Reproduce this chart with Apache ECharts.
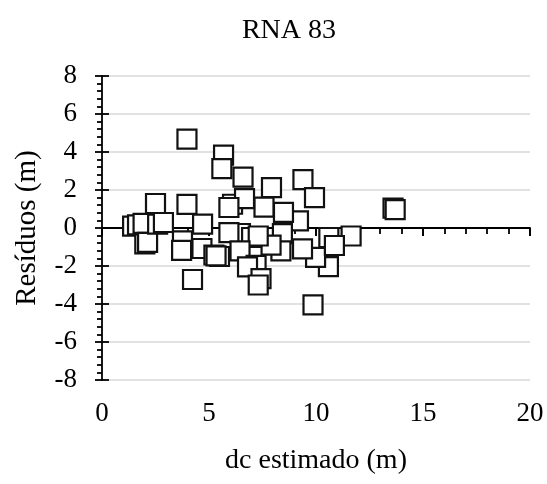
<!DOCTYPE html>
<html><head><meta charset="utf-8">
<script src="https://cdn.jsdelivr.net/npm/echarts@6/dist/echarts.min.js"></script>
<style>html,body{margin:0;padding:0;background:#fff}#c{width:547px;height:484px}</style>
</head><body><div id="c"></div>
<script>
const titleText = "RNA 83";
const xName = "dc estimado (m)";
const yName = "Resíduos (m)";
const xTicks = [0, 5, 10, 15, 20];
const yTicks = [-8, -6, -4, -2, 0, 2, 4, 6, 8];
const dcEstimado = [3.97, 5.68, 5.6, 6.59, 7.92, 9.39, 9.93, 13.6, 13.7, 11.64, 10.6, 10.58, 9.86, 9.98, 9.37, 10.86, 9.18, 8.48, 7.57, 6.1, 6.66, 5.93, 8.43, 8.36, 7.9, 6.47, 5.93, 6.99, 7.3, 6.45, 7.2, 6.8, 7.43, 7.3, 4.7, 4.67, 5.23, 5.49, 5.33, 4.23, 3.76, 3.72, 3.97, 2.5, 1.43, 1.66, 1.92, 2.0, 2.13, 2.6, 2.87];
const residuos =   [4.68, 3.84, 3.13, 2.68, 2.13, 2.55, 1.6, 1.05, 0.97, -0.42, -0.5, -2.03, -4.05, -1.55, -1.1, -0.92, 0.37, 0.82, 1.1, 1.25, 1.55, 1.08, -0.3, -1.2, -0.9, -0.29, -0.24, -0.5, -0.42, -1.2, -1.97, -2.05, -2.66, -3.0, 0.2, -1.08, -1.42, -1.5, -1.47, -2.71, -0.68, -1.18, 1.24, 1.29, 0.1, 0.16, 0.24, -0.84, -0.76, 0.2, 0.29];

const pts = dcEstimado.map((x, i) => [x, residuos[i]]);
const font = "'Liberation Serif', 'Times New Roman', serif";
const xMin = xTicks[0], xMax = xTicks[xTicks.length - 1], xInt = xTicks[1] - xTicks[0];
const yMin = yTicks[0], yMax = yTicks[yTicks.length - 1], yInt = yTicks[1] - yTicks[0];

const chart = echarts.init(document.getElementById('c'), null, {renderer: 'canvas'});
const lineStyle = {color: '#000', width: 1.8};
chart.setOption({
  animation: false,
  backgroundColor: '#fff',
  title: {text: titleText, left: 284, top: 12, textAlign: 'center',
    textStyle: {fontFamily: font, fontSize: 28, fontWeight: 'normal', color: '#000'}},
  grid: {left: 102, right: 17, top: 76, bottom: 104, containLabel: false},
  xAxis: [
    {type: 'value', min: xMin, max: xMax, interval: xInt,
      axisLine: {show: true, onZero: true, lineStyle},
      axisTick: {show: true, inside: false, length: 8, lineStyle},
      minorTick: {show: true, splitNumber: 5, length: 6, lineStyle},
      axisLabel: {show: false}, splitLine: {show: false}},
    {type: 'value', min: xMin, max: xMax, interval: xInt,
      axisLine: {show: false, onZero: true},
      axisTick: {show: true, inside: true, length: 8, lineStyle},
      axisLabel: {show: false}, splitLine: {show: false}},
    {type: 'value', min: xMin, max: xMax, interval: xInt, position: 'bottom',
      axisLine: {show: false, onZero: false}, axisTick: {show: false},
      axisLabel: {show: true, margin: 20, fontFamily: font, fontSize: 27, color: '#000'},
      splitLine: {show: false},
      name: xName, nameLocation: 'middle', nameGap: 67,
      nameTextStyle: {fontFamily: font, fontSize: 28, color: '#000'}}
  ],
  yAxis: [
    {type: 'value', min: yMin, max: yMax, interval: yInt,
      axisLine: {show: true, onZero: false, lineStyle},
      axisTick: {show: true, inside: false, length: 7, lineStyle},
      minorTick: {show: true, splitNumber: 5, length: 5, lineStyle},
      axisLabel: {show: true, margin: 25, fontFamily: font, fontSize: 27, color: '#000'},
      splitLine: {show: true, lineStyle: {color: '#d9d9d9', width: 1.5}},
      name: yName, nameLocation: 'middle', nameGap: 60, nameRotate: 90,
      nameTextStyle: {fontFamily: font, fontSize: 29, color: '#000'}},
    {type: 'value', min: yMin, max: yMax, interval: yInt, position: 'left',
      axisLine: {show: false, onZero: false},
      axisTick: {show: true, inside: true, length: 7, lineStyle},
      axisLabel: {show: false}, splitLine: {show: false}}
  ],
  series: [{
    type: 'scatter', xAxisIndex: 0, yAxisIndex: 0, data: pts,
    symbol: 'rect', symbolSize: 19,
    itemStyle: {color: '#fff', borderColor: '#111', borderWidth: 2.2, opacity: 1}
  }]
});
</script></body></html>
